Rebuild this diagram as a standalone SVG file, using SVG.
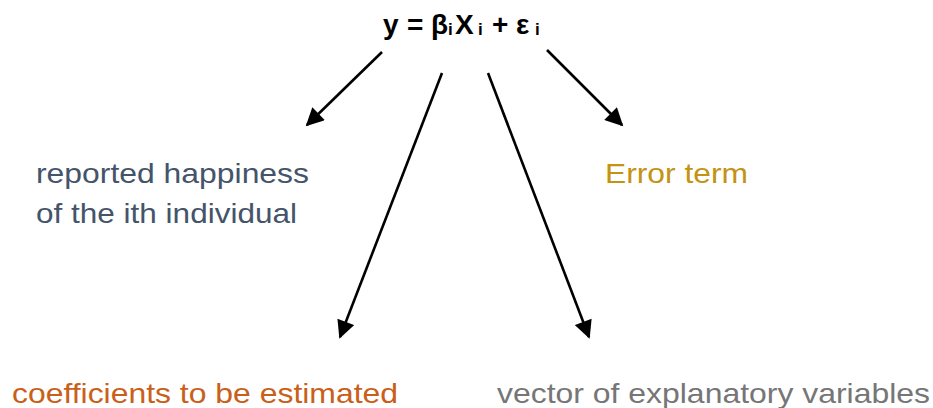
<svg xmlns="http://www.w3.org/2000/svg" width="933" height="408" viewBox="0 0 933 408">
<style>
text{font-family:"Liberation Sans",Arial,sans-serif;}
.lbl{font-size:28px;}
.eq{font-size:28px;font-weight:bold;fill:#000;}
.sub{font-size:17px;font-weight:bold;}
.conn line{stroke:#000;stroke-width:2.6;fill:none;marker-end:url(#ah);}
</style>
<defs>
<marker id="ah" viewBox="0 0 10 10" refX="9" refY="5" markerUnits="userSpaceOnUse" markerWidth="20" markerHeight="18" orient="auto">
<path d="M0,0 L10,5 L0,10 z" fill="#000"/>
</marker>
</defs>
<rect width="933" height="408" fill="#fff"/>
<g id="equation">
<text class="eq" y="34"><tspan x="383">y</tspan><tspan x="407">=</tspan><tspan x="431">β</tspan><tspan class="sub" x="448" y="35">i</tspan><tspan x="455" y="34">X</tspan><tspan class="sub" x="478" y="35">i</tspan><tspan x="492" y="34">+</tspan><tspan x="516">ε</tspan><tspan class="sub" x="535" y="35">i</tspan></text>
</g>
<g id="connectors" class="conn">
<line x1="382" y1="52" x2="307" y2="125"/>
<line x1="442" y1="73" x2="340" y2="337"/>
<line x1="488" y1="73" x2="589" y2="337"/>
<line x1="547" y1="50" x2="622" y2="125"/>
</g>
<g id="happiness">
<text class="lbl" x="36" y="183" fill="#44546a" textLength="273" lengthAdjust="spacingAndGlyphs">reported happiness</text>
<text class="lbl" x="36" y="223" fill="#44546a" textLength="261" lengthAdjust="spacingAndGlyphs">of the ith individual</text>
</g>
<g id="error">
<text class="lbl" x="605" y="183" fill="#c39314" textLength="143" lengthAdjust="spacingAndGlyphs">Error term</text>
</g>
<g id="coefficients">
<text class="lbl" x="12" y="403" fill="#c9601a" textLength="386" lengthAdjust="spacingAndGlyphs">coefficients to be estimated</text>
</g>
<g id="vector">
<text class="lbl" x="497" y="403" fill="#767676" textLength="433" lengthAdjust="spacingAndGlyphs">vector of explanatory variables</text>
</g>
</svg>
